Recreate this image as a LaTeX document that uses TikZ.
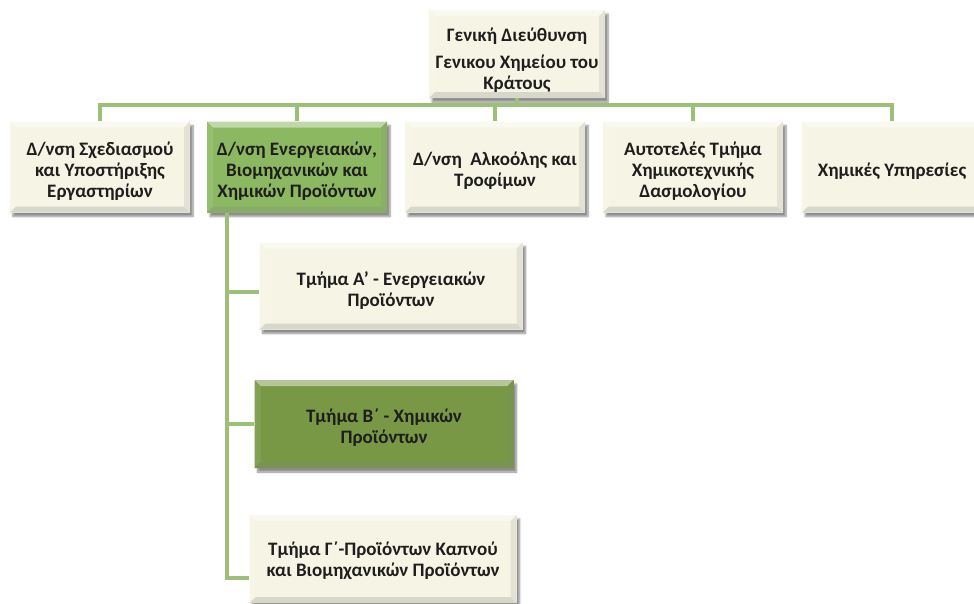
\documentclass[tikz,border=0pt]{standalone}
\usepackage{fontspec}
\setmainfont{Carlito}
\usetikzlibrary{shadows.blur}
\definecolor{cream}{HTML}{F6F4E4}
\definecolor{lgreen}{HTML}{8DB862}
\definecolor{dgreen}{HTML}{789845}
\definecolor{conncol}{HTML}{9CC078}
\definecolor{txt}{HTML}{1E1E1E}
\tikzset{
  bev/.style={fill=#1,
    blur shadow={shadow xshift=3pt, shadow yshift=-4pt, shadow blur steps=6, shadow opacity=45},
    path picture={
      \coordinate (nw) at (path picture bounding box.north west);
      \coordinate (ne) at (path picture bounding box.north east);
      \coordinate (sw) at (path picture bounding box.south west);
      \coordinate (se) at (path picture bounding box.south east);
      \fill[#1!55!white] (nw) -- (ne) -- ([shift={(-6pt,-6pt)}]ne) -- ([shift={(6pt,-6pt)}]nw) -- cycle;
      \fill[#1!92!white] (nw) -- (sw) -- ([shift={(6pt,6pt)}]sw) -- ([shift={(6pt,-6pt)}]nw) -- cycle;
      \fill[#1!85!gray] (ne) -- (se) -- ([shift={(-6pt,6pt)}]se) -- ([shift={(-6pt,-6pt)}]ne) -- cycle;
      \fill[#1!75!gray] (sw) -- (se) -- ([shift={(-6pt,6pt)}]se) -- ([shift={(6pt,6pt)}]sw) -- cycle;
    }},
  box/.style={bev=#1, inner sep=0pt},
  lbl/.style={inner sep=0pt, align=center, text=txt,
    font=\fontsize{19}{21}\selectfont\bfseries},
  conn/.style={draw=conncol, line width=4pt}
}
\begin{document}
\begin{tikzpicture}[x=1pt,y=-1pt]
\useasboundingbox (0,0) rectangle (974,603);
\node[box=cream, minimum width=176pt, minimum height=88pt] (top) at (517,54) {};
\node[lbl] (topt) at ([yshift=-6pt]top.center)
  {Γενική Διεύθυνση\\[6pt]Γενικου Χημείου του\\Κράτους};
\node[box=cream, minimum width=180pt, minimum height=91pt] (b1) at (100,167) {};
\node[lbl] (b1t) at ([yshift=-4pt]b1.center)
  {Δ/νση Σχεδιασμού\\και Υποστήριξης\\Εργαστηρίων};
\node[box=lgreen, minimum width=180pt, minimum height=91pt] (b2) at (297,167) {};
\node[lbl] (b2t) at ([yshift=-4pt]b2.center)
  {Δ/νση Ενεργειακών,\\Βιομηχανικών και\\Χημικών Προϊόντων};
\node[box=cream, minimum width=180pt, minimum height=91pt] (b3) at (495,167) {};
\node[lbl] (b3t) at ([yshift=-4pt]b3.center)
  {Δ/νση\ \ Αλκοόλης και\\Τροφίμων};
\node[box=cream, minimum width=180pt, minimum height=91pt] (b4) at (693,167) {};
\node[lbl] (b4t) at ([yshift=-4pt]b4.center)
  {Αυτοτελές Τμήμα\\Χημικοτεχνικής\\Δασμολογίου};
\node[box=cream, minimum width=180pt, minimum height=91pt] (b5) at (892,167) {};
\node[lbl] (b5t) at ([yshift=-4pt]b5.center)
  {Χημικές Υπηρεσίες};
\node[box=cream, minimum width=263pt, minimum height=87pt] (ca) at (391,286) {};
\node[lbl] (cat) at ([yshift=-5pt]ca.center)
  {Τμήμα Α' - Ενεργειακών\\Προϊόντων};
\node[box=dgreen, minimum width=259pt, minimum height=88pt] (cb) at (384,424) {};
\node[lbl] (cbt) at ([yshift=-4pt]cb.center)
  {Τμήμα Β΄ - Χημικών\\Προϊόντων};
\node[box=cream, minimum width=267pt, minimum height=88pt] (cc) at (383,559) {};
\node[lbl] (cct) at ([yshift=-2pt]cc.center)
  {Τμήμα Γ΄-Προϊόντων Καπνού\\και Βιομηχανικών Προϊόντων};
% top-level connectors
\coordinate (bus) at ([yshift=-7pt]top.south);
\draw[conn] (top.south) -- (bus);
\draw[conn] (b1.north) -- (b1.north |- bus) -- (b5.north |- bus) -- (b5.north);
\draw[conn] (b2.north |- bus) -- (b2.north);
\draw[conn] (b3.north |- bus) -- (b3.north);
\draw[conn] (b4.north |- bus) -- (b4.north);
% sub connectors
\coordinate (vtop) at ([xshift=-70pt]b2.south);
\coordinate (ccin) at ([yshift=-19pt]cc.west);
\coordinate (cain) at ([yshift=-6pt]ca.west);
\draw[conn] (vtop) |- (ccin);
\draw[conn] (cain -| vtop) -- (cain);
\draw[conn] (cb.west -| vtop) -- (cb.west);
\end{tikzpicture}
\end{document}
